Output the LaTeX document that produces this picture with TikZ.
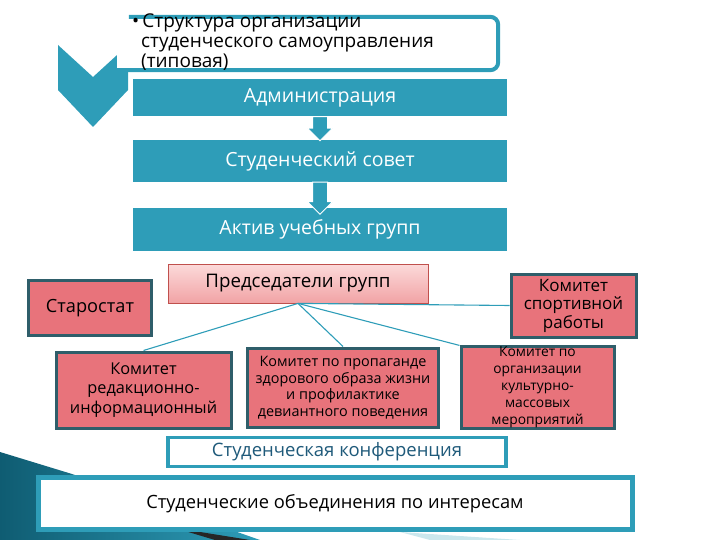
\documentclass[tikz,border=0pt]{standalone}
\usepackage{fontspec}
\setmainfont{Open Sans}
\usetikzlibrary{shapes.arrows,calc}
\definecolor{tealA}{HTML}{2E9DB8}
\definecolor{tealD}{HTML}{0F5C72}
\definecolor{pinkF}{HTML}{E8737B}
\definecolor{pinkB}{HTML}{2F5E6A}
\definecolor{predT}{HTML}{FCDADA}
\definecolor{predB}{HTML}{F1A3A5}
\definecolor{predE}{HTML}{C0504D}
\definecolor{confT}{HTML}{1F5A7A}
\tikzset{
  tealbox/.style={fill=tealA, draw=none, text=white, inner sep=0pt},
  pinkbox/.style={fill=pinkF, draw=pinkB, line width=3pt, align=center, inner sep=0pt},
  outlinebox/.style={fill=white, draw=tealA, inner sep=0pt},
  conn/.style={draw=tealA, line width=1.1pt},
  blockarrow/.style={single arrow, rotate=-90, fill=tealA, draw=white, line width=1pt,
    inner sep=7pt, single arrow head extend=5pt, minimum height=24pt}
}
\begin{document}
\begin{tikzpicture}[x=1pt,y=-1pt]
\useasboundingbox (0,0) rectangle (720,540);
% background decoration
\shade[left color=tealD, right color=tealA] (0,452) -- (72,474) -- (260,540) -- (0,540) -- cycle;
\fill[black!85] (175,528) -- (250,540) -- (215,540) -- cycle;
\fill[tealA!25] (400,532) -- (520,540) -- (430,540) -- cycle;
% chevron
\fill[tealA] (58,45) -- (93,77) -- (128,45) -- (128,90) -- (93,127) -- (58,90) -- cycle;
% title box (no border on its left side)
\node[fill=white, inner sep=0pt, minimum width=381pt, minimum height=53pt] (tbox) at (307.5,43.5) {};
\draw[tealA, line width=4pt, rounded corners=8pt]
  ([xshift=-2pt]tbox.south west) -- (tbox.south east) -- (tbox.north east) -- ([xshift=12pt]tbox.north west);
\node[anchor=north west, align=left, inner sep=0pt, font=\fontsize{19}{20}\selectfont] (ttl) at (132,14)
  {•\,Структура организации\\\hspace{9pt}студенческого самоуправления\\\hspace{9pt}(типовая)};
% teal boxes
\node[tealbox, minimum width=374pt, minimum height=37pt, font=\fontsize{19.6}{20}\selectfont] (adm) at (320,97.5) {Администрация};
\node[tealbox, minimum width=374pt, minimum height=42pt, font=\fontsize{19.5}{20}\selectfont] (sov) at (320,161.5) {Студенческий совет};
\node[tealbox, minimum width=374pt, minimum height=42pt, font=\fontsize{19.5}{20}\selectfont] (akt) at (320,229.5) {Актив учебных групп};
\node[blockarrow] (ar1) at (320,125) {};
\node[blockarrow, minimum height=32pt] (ar2) at (320,194.5) {};
% chairmen
\node[top color=predT, bottom color=predB, draw=predE, line width=0.8pt, minimum width=260pt, minimum height=39pt, inner sep=0pt, font=\fontsize{18.7}{20}\selectfont] (pred) at (298,283.5) {Председатели групп};
% pink boxes
\node[pinkbox, minimum width=123pt, minimum height=55pt, font=\fontsize{18.2}{19}\selectfont] (star) at (90,308) {Старостат};
\node[pinkbox, minimum width=175pt, minimum height=76pt, font=\fontsize{16.3}{19.5}\selectfont] (red) at (143.5,390) {Комитет\\редакционно-\\информационный};
\node[pinkbox, minimum width=191pt, minimum height=79pt, font=\fontsize{14.4}{16.5}\selectfont] (prop) at (343,387.5) {Комитет по пропаганде\\здорового образа жизни\\и профилактике\\девиантного поведения};
\node[pinkbox, minimum width=153pt, minimum height=79pt, font=\fontsize{13.8}{17}\selectfont] (kult) at (537.5,387.5) {Комитет по\\организации\\культурно-\\массовых\\мероприятий};
\node[pinkbox, minimum width=125pt, minimum height=63pt, font=\fontsize{17}{18.5}\selectfont] (sport) at (573.5,305.5) {Комитет\\спортивной\\работы};
% connectors
\draw[conn] (pred.south) -- (red.north);
\draw[conn] (pred.south) -- (prop.north);
\draw[conn] (pred.south) -- (kult.north west);
\draw[conn] (pred.south) -- (sport.west);
% bottom boxes
\node[outlinebox, line width=3.5pt, minimum width=338pt, minimum height=29pt, text=confT, font=\fontsize{18.5}{20}\selectfont] (conf) at (337,452) {Студенческая конференция};
\node[outlinebox, line width=5pt, minimum width=594pt, minimum height=52pt, font=\fontsize{18.3}{20}\selectfont] (obj) at (335,503.5) {Студенческие объединения по интересам};
\end{tikzpicture}
\end{document}
